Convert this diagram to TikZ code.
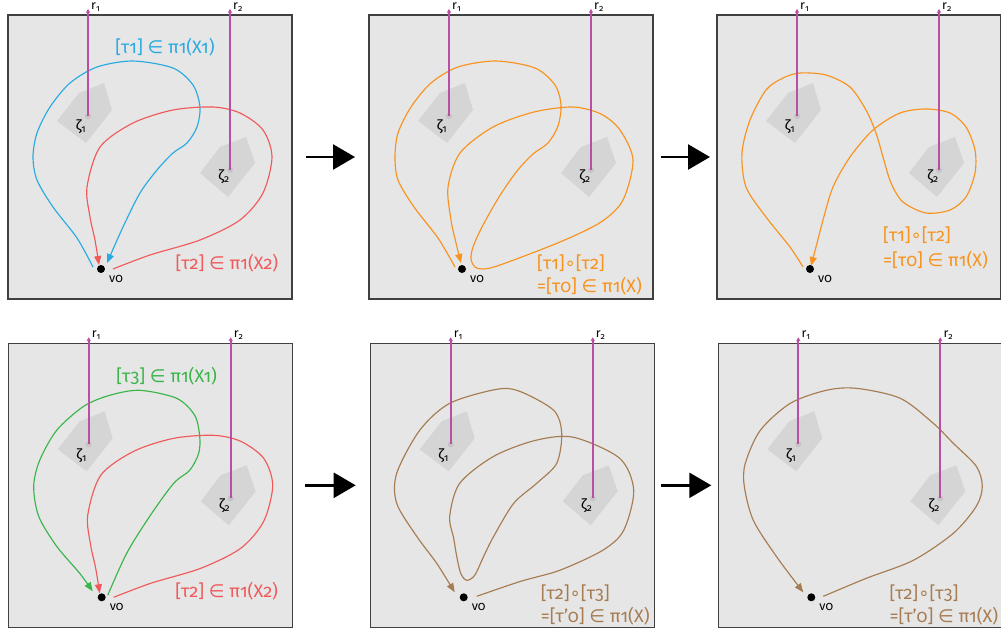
\documentclass[tikz,border=0pt]{standalone}
\usepackage{fontspec}
\setmainfont{Fira Sans}[Numbers=OldStyle]
\newfontfamily\symfont{DejaVu Sans}
\usetikzlibrary{arrows.meta}

\definecolor{bgray}{HTML}{E6E6E6}
\definecolor{framec}{HTML}{404040}
\definecolor{shadec}{HTML}{D5D5D5}
\definecolor{zdotc}{HTML}{C4C4C4}
\definecolor{rayc}{HTML}{B84FA3}
\definecolor{cblue}{HTML}{29ABE2}
\definecolor{cred}{HTML}{F05A5B}
\definecolor{corange}{HTML}{F7931E}
\definecolor{cgreen}{HTML}{39B54A}
\definecolor{cbrown}{HTML}{A67C52}

% shadows, rays and labels shared by every panel (local pixel coordinates)
\newcommand\panelunder{%
  \fill[shade] (49,106) -- (71,78) -- (96,68) -- (104,95) -- (78,128) -- cycle;
  \fill[shade] (192,158) -- (212,132) -- (238,122) -- (247,148) -- (220,182) -- cycle;
}
\newcommand\panelover{%
  \coordinate (z1) at (80,101);
  \coordinate (z2) at (222,155);
  \coordinate (t1) at (80,-6);
  \coordinate (t2) at (222,-6);
  \fill[zdot] (z1) circle (3pt);
  \fill[zdot] (z2) circle (3pt);
  \draw[ray] (z1) -- (t1);
  \draw[ray] (z2) -- (t2);
  \node[small, anchor=west] (rl1) at (83,-8) {r\textsubscript{1}};
  \node[small, anchor=west] (rl2) at (225,-8) {r\textsubscript{2}};
  \node[zlab] (zl1) at (73,112) {ζ\textsubscript{1}};
  \node[zlab] (zl2) at (216,162) {ζ\textsubscript{2}};
  \node[vdot] (v0) at (93,254) {};
  \node[small] (vl) at (108,264) {v0};
}
\newcommand\inop{{\symfont ∈}}
\newcommand\compop{{\symfont ∘}}

\begin{document}
\begin{tikzpicture}[x=1pt,y=-1pt,
  panel/.style={rectangle, draw=framec, fill=bgray, line width=1.4pt,
    minimum width=284pt, minimum height=284pt, inner sep=0pt, outer sep=0pt,
    anchor=north west},
  shade/.style={fill=shadec},
  zdot/.style={fill=zdotc},
  ray/.style={draw=rayc, line width=2pt, -{Stealth[length=4pt,width=4.5pt]}},
  vdot/.style={circle, fill=black, minimum size=8pt, inner sep=0pt},
  small/.style={font=\fontsize{12.5}{14}\selectfont, inner sep=0pt},
  zlab/.style={font=\fontsize{14.5}{16}\selectfont, inner sep=0pt},
  biglab/.style={font=\fontsize{18}{21}\selectfont, inner sep=0pt},
  curve/.style={line width=1.15pt},
  tip/.style={-{Triangle[length=9pt,width=7pt]}},
  bigarrow/.style={line width=2.4pt, -{Triangle[length=22pt,width=25pt]}}]
\useasboundingbox (0,0) rectangle (1001,633);

% panel frames
\node[panel] (P1) at (8,15) {};
\node[panel] (P2) at (369,15) {};
\node[panel] (P3) at (717,15) {};
\node[panel] (P4) at (8.7,343.3) {};
\node[panel] (P5) at (370.7,343.3) {};
\node[panel] (P6) at (718.3,343.3) {};

% panel 1: tau1 and tau2
\begin{scope}[shift={(8,15)}, name prefix=a-]
  \panelunder
  \draw[curve, cblue, tip] plot[smooth] coordinates {(85,252) (69,223) (45,192) (29,165) (25,142) (29,118) (42,92) (62,68) (89,52) (125,46) (165,53) (185,70) (192,92) (189,112) (179,128) (165,138) (149,155) (132,178) (115,212) (99,248)};
  \draw[curve, cred, tip] plot[smooth] coordinates {(105,254) (142,240) (192,225) (232,205) (255,178) (264,142) (255,115) (232,98) (205,92) (165,95) (125,108) (92,132) (79,172) (82,202) (87,225) (91,250)};
  \panelover
  \node[biglab, text=cblue] (lab1) at (157,32) {[τ1] \inop\ π1(X1)};
  \node[biglab, text=cred] (lab2) at (219,248) {[τ2] \inop\ π1(X2)};
\end{scope}

% panel 2: concatenation tau1 o tau2
\begin{scope}[shift={(369,15)}, name prefix=b-]
  \panelunder
  \draw[curve, corange, tip] plot[smooth] coordinates {(86,252) (69,223) (45,192) (29,165) (26,142) (29,118) (42,92) (62,68) (89,52) (127,46) (166,53) (186,70) (192,90) (189,111) (179,128) (164,139) (148,156) (130,182) (113,212) (104,232) (102,244) (106,252) (114,254) (131,250) (191,227) (232,207) (254,185) (264,145) (251,115) (232,99) (204,92) (165,97) (124,112) (91,138) (79,172) (82,205) (87,228) (92,248)};
  \panelover
  \node[biglab, text=corange, anchor=west] (lab1) at (168,248) {[τ1]\compop[τ2]};
  \node[biglab, text=corange, anchor=west] (lab2) at (168,271) {=[τ0] \inop\ π1(X)};
\end{scope}

% panel 3: simplified figure-eight loop
\begin{scope}[shift={(717,15)}, name prefix=c-]
  \panelunder
  \draw[curve, corange, tip] plot[smooth] coordinates {(86,252) (73,232) (49,202) (29,172) (25,138) (33,105) (49,75) (66,63) (83,58) (109,60) (133,72) (149,95) (159,118) (166,142) (174,168) (186,187) (209,198) (233,195) (249,182) (258,158) (258,135) (249,112) (233,98) (209,94) (183,98) (156,115) (133,142) (116,172) (106,205) (99,232) (94,251)};
  \panelover
  \node[biglab, text=corange, anchor=west] (lab1) at (166,220) {[τ1]\compop[τ2]};
  \node[biglab, text=corange, anchor=west] (lab2) at (166,245) {=[τ0] \inop\ π1(X)};
\end{scope}

% panel 4: tau3 and tau2
\begin{scope}[shift={(8.7,343.3)}, name prefix=d-]
  \panelunder
  \draw[curve, cgreen, tip] plot[smooth] coordinates {(99,252) (118,210) (141,173) (165,140) (181,127) (190,110) (191,93) (186,72) (168,55) (131,47) (101,52) (75,63) (48,87) (31,117) (25,143) (30,173) (48,203) (71,230) (84,248)};
  \draw[curve, cred, tip] plot[smooth] coordinates {(105,254) (142,240) (192,225) (232,205) (255,178) (264,142) (255,115) (232,98) (205,92) (165,95) (125,108) (92,132) (79,172) (82,202) (87,225) (91,250)};
  \panelover
  \node[biglab, text=cgreen] (lab1) at (158,33) {[τ3] \inop\ π1(X1)};
  \node[biglab, text=cred] (lab2) at (218,248) {[τ2] \inop\ π1(X2)};
\end{scope}

% panel 5: concatenation tau2 o tau3
\begin{scope}[shift={(370.7,343.3)}, name prefix=e-]
  \panelunder
  \draw[curve, cbrown, tip] plot[smooth] coordinates {(106,253) (150,238) (189,227) (232,207) (253,187) (263,147) (249,115) (203,94) (165,97) (123,113) (89,140) (79,173) (83,195) (86,213) (90,230) (96,237) (104,232) (113,213) (123,193) (143,160) (166,140) (186,120) (191,90) (183,67) (149,48) (126,46) (79,60) (49,87) (26,130) (26,160) (46,193) (66,220) (84,249)};
  \panelover
  \node[biglab, text=cbrown, anchor=west] (lab1) at (170,250) {[τ2]\compop[τ3]};
  \node[biglab, text=cbrown, anchor=west] (lab2) at (170,273) {=[τ’0] \inop\ π1(X)};
\end{scope}

% panel 6: single loop around both punctures
\begin{scope}[shift={(718.3,343.3)}, name prefix=f-]
  \panelunder
  \draw[curve, cbrown, tip] plot[smooth] coordinates {(105,253) (148,235) (195,217) (235,190) (258,163) (264,143) (258,123) (235,100) (215,80) (182,55) (138,45) (108,47) (72,60) (42,87) (27,120) (26,143) (35,177) (58,213) (85,249)};
  \panelover
  \node[biglab, text=cbrown, anchor=west] (lab1) at (171,250) {[τ2]\compop[τ3]};
  \node[biglab, text=cbrown, anchor=west] (lab2) at (171,273) {=[τ’0] \inop\ π1(X)};
\end{scope}

% arrows between panels
\draw[bigarrow] ([xshift=14pt]P1.east) -- ([xshift=-14pt]P2.west);
\draw[bigarrow] ([xshift=8pt]P2.east) -- ([xshift=-7pt]P3.west);
\draw[bigarrow] ([xshift=12pt]P4.east) -- ([xshift=-15pt]P5.west);
\draw[bigarrow] ([xshift=6pt]P5.east) -- ([xshift=-7pt]P6.west);
\end{tikzpicture}
\end{document}
